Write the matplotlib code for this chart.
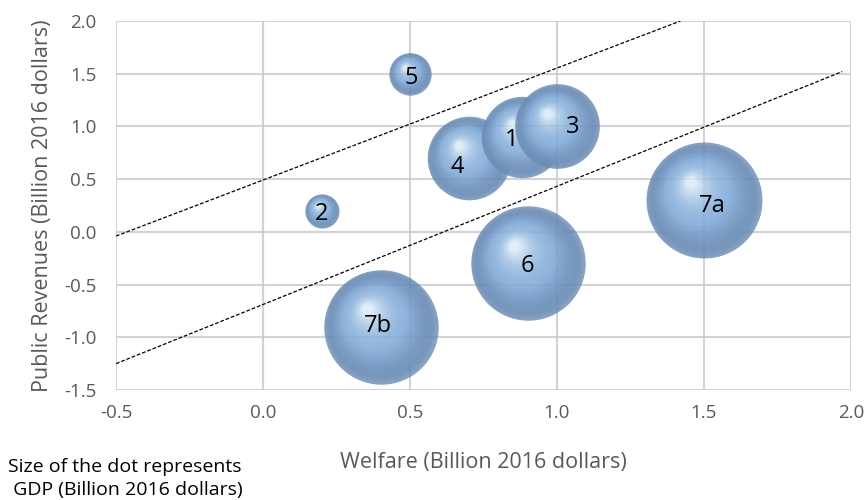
import numpy as np
import matplotlib.pyplot as plt
from matplotlib.colors import to_rgb
import matplotlib.transforms as mtransforms

# bubble data
labels = ['4', '1', '3', '2', '5', '6', '7a', '7b']
welfare = [0.70, 0.88, 1.00, 0.20, 0.50, 0.90, 1.50, 0.40]
revenues = [0.70, 0.90, 1.00, 0.20, 1.50, -0.30, 0.30, -0.90]
gdp = [3.9, 3.7, 4.0, 0.65, 1.0, 7.3, 7.5, 7.3]

# dashed boundary lines
upper_x = [-0.5, 1.42]
upper_y = [-0.04, 2.0]
lower_x = [-0.5, 1.97]
lower_y = [-1.25, 1.52]

xticks = [-0.5, 0.0, 0.5, 1.0, 1.5, 2.0]
yticks = [-1.5, -1.0, -0.5, 0.0, 0.5, 1.0, 1.5, 2.0]

# label nudges (points), labels were moved by hand in the original
label_dx = [-8, -7, 11, 0, 1, 0, 6, -2]
label_dy = [-4, 0, 2, 0, -1, 0, -2, 3]

plt.rcParams['font.family'] = ['Open Sans', 'DejaVu Sans']

fig = plt.figure(figsize=(8.68, 5.0), dpi=100)
ax = fig.add_axes([0.1336, 0.22, 0.8468, 0.738])
ax.set_xlim(-0.5, 2.0)
ax.set_ylim(-1.5, 2.0)
ax.set_xticks(xticks)
ax.set_yticks(yticks)
ax.set_xticklabels(['%.1f' % v for v in xticks])
ax.set_yticklabels(['%.1f' % v for v in yticks])
ax.tick_params(length=0, labelsize=13.5, colors='#595959')
ax.tick_params(axis='x', pad=10)
ax.tick_params(axis='y', pad=14)
for s in ax.spines.values():
    s.set_visible(False)
ax.grid(True, color='#dcdcdc', lw=1.5, zorder=0)
ax.set_axisbelow(True)
ax.axhline(0, color='#c4c4c4', lw=1.5, zorder=0.5)
ax.axvline(0, color='#d0d0d0', lw=1.5, zorder=0.5)

ax.plot(upper_x, upper_y, color='black', ls=(0, (3, 1.5)), lw=0.9, zorder=1)
ax.plot(lower_x, lower_y, color='black', ls=(0, (3, 1.5)), lw=0.9, zorder=1)

# pseudo 3D bubbles: stacked circles drifting toward a highlight
size_scale = 930.0  # points^2 per GDP unit
edge = np.array(to_rgb('#6a8bb3'))
mid = np.array(to_rgb('#92b6de'))
light = np.array(to_rgb('#eef8fd'))
n_layers = 28
z = 2
for lab, x, y, g, ldx, ldy in zip(labels, welfare, revenues, gdp, label_dx, label_dy):
    s0 = g * size_scale
    r0 = np.sqrt(s0) / 2.0  # radius in points
    ax.scatter([x], [y], s=s0, color=edge, alpha=0.8, lw=0, zorder=z)
    for i in range(1, n_layers):
        t = i / n_layers
        if t < 0.45:
            c = edge + (mid - edge) * (t / 0.45)
        else:
            c = mid + (light - mid) * ((t - 0.45) / 0.55) ** 1.8
        f = 1.0 - 0.94 * t
        dx = -0.24 * r0 * t
        dy = 0.32 * r0 * t
        tr = mtransforms.offset_copy(ax.transData, fig=fig, x=dx, y=dy, units='points')
        ax.scatter([x], [y], s=s0 * f * f, color=c, alpha=0.3 + 0.5 * t, lw=0,
                   zorder=z, transform=tr)
    ax.annotate(lab, (x, y), xytext=(ldx, ldy), textcoords='offset points',
                ha='center', va='center_baseline', fontsize=17, color='black', zorder=50)
    z += 1

# faint gridlines seen through the translucent bubbles
for v in xticks:
    ax.axvline(v, color='#5d7a9c', lw=1.2, alpha=0.1, zorder=z)
for v in yticks:
    ax.axhline(v, color='#5d7a9c', lw=1.2, alpha=0.1, zorder=z)

ax.set_xlabel('Welfare (Billion 2016 dollars)', fontsize=15.5, color='#595959', labelpad=22)
ax.set_ylabel('Public Revenues (Billion 2016 dollars)', fontsize=15.5, color='#595959', labelpad=8)

fig.text(0.009, 1 - 472 / 500, 'Size of the dot represents', fontsize=14,
         color='black', ha='left', va='baseline')
fig.text(0.009, 1 - 495 / 500, ' GDP (Billion 2016 dollars)', fontsize=14,
         color='black', ha='left', va='baseline')

fig.savefig('out.png', dpi=100)
